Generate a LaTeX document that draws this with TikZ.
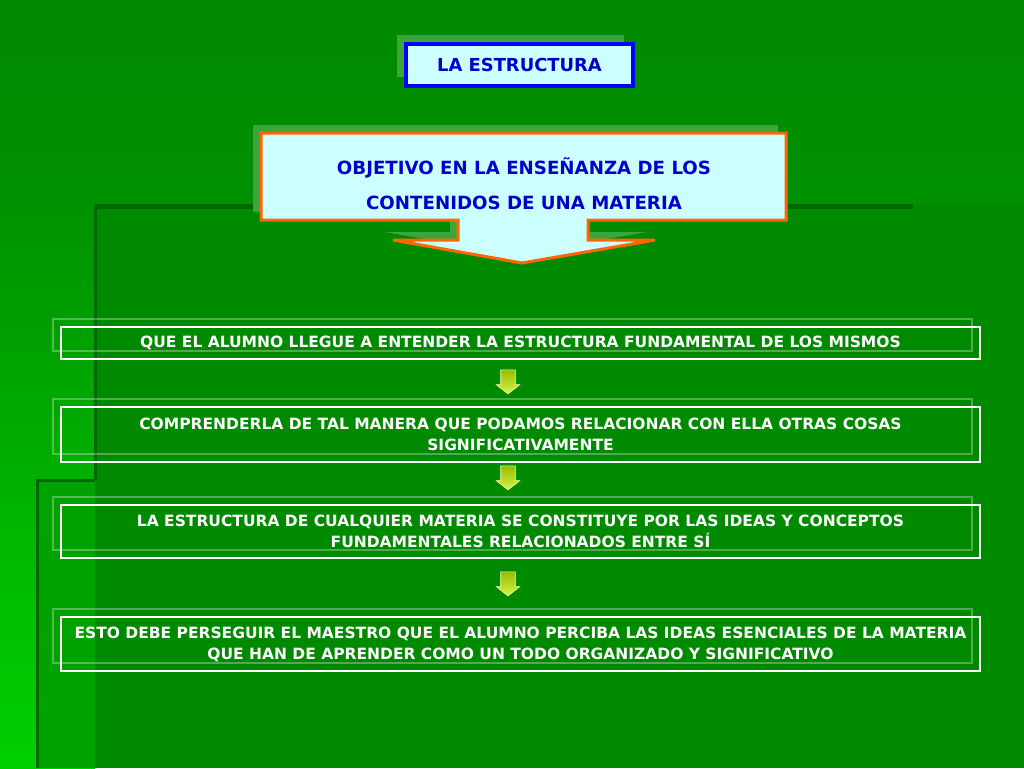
\documentclass[tikz,border=0pt]{standalone}
\usepackage{fontspec}
\setmainfont{DejaVu Sans}
\usepackage{tikz}
\usetikzlibrary{positioning}
\usetikzlibrary{shapes.arrows}
\usetikzlibrary{shadows}
\definecolor{bgtop}{RGB}{0,136,0}
\definecolor{bgsplit}{RGB}{0,146,0}
\definecolor{bglow}{RGB}{0,208,0}
\definecolor{bgmid}{RGB}{0,162,0}
\definecolor{bg}{RGB}{0,138,0}
\definecolor{dk}{RGB}{0,104,0}
\definecolor{sh}{RGB}{60,166,60}
\definecolor{cyanfill}{RGB}{204,255,255}
\definecolor{tblue}{RGB}{0,0,204}
\definecolor{bblue}{RGB}{0,0,255}
\definecolor{orng}{RGB}{255,102,0}
\definecolor{arup}{RGB}{150,190,0}
\definecolor{arlow}{RGB}{214,244,70}
\tikzset{
t/.style={
  rectangle,
  inner sep=0pt,
  minimum width=227pt,
  minimum height=42pt,
  align=center,
  draw=bblue,
  line width=4pt,
  fill=cyanfill,
  text=tblue,
  font=\fontsize{17.9}{21}\bfseries,
  general shadow={shadow xshift=-9pt,shadow yshift=9pt,draw=none,fill=sh}
  },
ob/.style={
  inner sep=0pt,
  align=center,
  text=tblue,
  font=\fontsize{18.2}{35}\bfseries
  },
w/.style={
  rectangle,
  inner sep=0pt,
  minimum width=919pt,
  align=center,
  draw=white,
  line width=2pt,
  text=white,
  font=\fontsize{15.5}{21}\bfseries,
  general shadow={shadow xshift=-8pt,shadow yshift=8pt,draw=white,draw opacity=.3}
  },
ar/.style={
  single arrow,
  shape border rotate=270,
  inner sep=7pt,
  minimum height=24pt,
  single arrow head extend=4.5pt,
  single arrow tip angle=104,
  top color=arup,
  bottom color=arlow,
  draw=white!75!yellow,
  line width=.6pt
  }
}

\begin{document}
\begin{tikzpicture}[x=1pt,y=-1pt,line join=miter]
\useasboundingbox (0,0) rectangle (1024,768);
% background
\shade[top color=bgtop,bottom color=bgsplit] (0,0) rectangle (1024,205);
\shade[top color=bgsplit,bottom color=bglow] (0,205) rectangle (95,768);
\fill[bgmid] (37,480) rectangle (95,768);
\draw[dk,line width=3pt] (37,768) -- (37,480) -- (95,480);
\fill[bg] (95,205) rectangle (1024,768);
\draw[dk,line width=3pt] (95,480) -- (95,205);
\draw[dk,line width=5pt] (95,206) -- (913,206);
% title
\node[t] (1) at (519.5,65) {LA ESTRUCTURA};
% objective with arrow
\fill[sh,xshift=-8pt,yshift=8pt] (261,133) -- (786,133) -- (786,220) -- (588,220) -- (588,240)
  -- (655,240) -- (522,263) -- (393,240) -- (458,240) -- (458,220) -- (261,220) -- cycle;
\draw[orng,line width=3pt,fill=cyanfill] (261,133) -- (786,133) -- (786,220) -- (588,220) -- (588,240)
  -- (655,240) -- (522,263) -- (393,240) -- (458,240) -- (458,220) -- (261,220) -- cycle;
\node[ob] (2) at (524,183.5) {OBJETIVO EN LA ENSEÑANZA DE LOS\\CONTENIDOS DE UNA MATERIA};
% steps
\node[w,minimum height=32pt] (3) at (520.5,343) {QUE EL ALUMNO LLEGUE A ENTENDER LA ESTRUCTURA FUNDAMENTAL DE LOS MISMOS};
\node[w,minimum height=55pt] (4) at (520.5,434.5) {COMPRENDERLA DE TAL MANERA QUE PODAMOS RELACIONAR CON ELLA OTRAS COSAS\\SIGNIFICATIVAMENTE};
\node[w,minimum height=53pt] (5) at (520.5,531.5) {LA ESTRUCTURA DE CUALQUIER MATERIA SE CONSTITUYE POR LAS IDEAS Y CONCEPTOS\\FUNDAMENTALES RELACIONADOS ENTRE SÍ};
\node[w,minimum height=54pt] (6) at (520.5,644) {ESTO DEBE PERSEGUIR EL MAESTRO QUE EL ALUMNO PERCIBA LAS IDEAS ESENCIALES DE LA MATERIA\\QUE HAN DE APRENDER COMO UN TODO ORGANIZADO Y SIGNIFICATIVO};
% small arrows
\node[ar] (a) at (508,379) {};
\node[ar] (b) at (508,475) {};
\node[ar] (c) at (508,581) {};
\end{tikzpicture}
\end{document}
